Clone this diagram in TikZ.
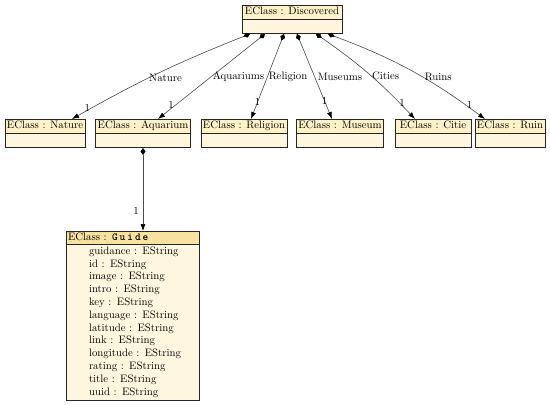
\documentclass[tikz,border=0pt]{standalone}
\usetikzlibrary{shapes.multipart,arrows.meta,positioning}

\definecolor{headfill}{HTML}{FFF2C8}
\definecolor{bodyfill}{HTML}{FEF6DF}
\definecolor{guidehead}{HTML}{F8E2A0}
\definecolor{linkgray}{HTML}{4A4A4A}

\newcommand{\headstrut}{\rule[-2.5pt]{0pt}{10pt}}
\newcommand{\bodystrut}{\rule{0pt}{11pt}}

\tikzset{
  eclass/.style={rectangle split, rectangle split parts=2, draw=black!85,
    line width=0.6pt, rectangle split part fill={headfill,bodyfill},
    inner xsep=2pt, inner ysep=1.5pt, minimum width=#1, anchor=north},
  ref/.style={draw=linkgray, line width=0.6pt,
    {Diamond[length=7pt,width=5pt,color=black]}-{Latex[length=7pt,width=5pt,color=black]}},
  role/.style={anchor=west, inner sep=1pt},
  card/.style={inner sep=1pt}
}

\begin{document}
\begin{tikzpicture}[x=1pt, y=-1pt, font=\fontsize{10.8}{13}\selectfont]
  \useasboundingbox (0,0) rectangle (550,405);

  \node[eclass=100pt] (disc) at (292,5)   {\headstrut EClass : Discovered\nodepart{two}\bodystrut};

  \node[eclass=78pt]  (nat)  at (45,119)  {\headstrut EClass : Nature\nodepart{two}\bodystrut};
  \node[eclass=92pt]  (aq)   at (143,119) {\headstrut EClass : Aquarium\nodepart{two}\bodystrut};
  \node[eclass=86pt]  (rel)  at (244,119) {\headstrut EClass : Religion\nodepart{two}\bodystrut};
  \node[eclass=86pt]  (mus)  at (340,119) {\headstrut EClass : Museum\nodepart{two}\bodystrut};
  \node[eclass=76pt]  (cit)  at (433,119) {\headstrut EClass : Citie\nodepart{two}\bodystrut};
  \node[eclass=68pt]  (ruin) at (510,119) {\headstrut EClass : Ruin\nodepart{two}\bodystrut};

  % the guide class with its attributes
  \node[eclass=133pt, text width=129pt, align=left, inner ysep=1pt,
        rectangle split part fill={guidehead,bodyfill}] (guide) at (132.5,231)
    {\headstrut EClass : \texttt{\textbf{G\kern2pt u\kern2pt i\kern2pt d\kern2pt e}}%
     \nodepart{two}\renewcommand{\arraystretch}{0.985}%
     \begin{tabular}{@{\hspace{21pt}}l@{}}
       guidance : EString\\
       id : EString\\
       image : EString\\
       intro : EString\\
       key : EString\\
       language : EString\\
       latitude : EString\\
       link : EString\\
       longitude : EString\\
       rating : EString\\
       title : EString\\
       uuid : EString
     \end{tabular}};

  \draw[ref] ([xshift=-42pt]disc.south) to[bend right=4]
    node[role,pos=.57]{Nature} node[card,pos=.9,xshift=-4pt]{1} ([xshift=27pt]nat.north);
  \draw[ref] ([xshift=-27pt]disc.south) --
    node[role,pos=.5]{Aquariums} node[card,pos=.84,xshift=-4pt]{1} ([xshift=15pt]aq.north);
  \draw[ref] ([xshift=-8pt]disc.south) --
    node[role,pos=.5]{Religion} node[card,pos=.8]{1} ([xshift=7pt]rel.north);
  \draw[ref] ([xshift=5pt]disc.south) --
    node[role,pos=.5,xshift=2pt]{Museums} node[card,pos=.79]{1} ([xshift=-8pt]mus.north);
  \draw[ref] ([xshift=24pt]disc.south) to[bend left=6]
    node[role,pos=.53]{Cities} node[card,pos=.84,xshift=3pt]{1} ([xshift=-18pt]cit.north);
  \draw[ref] ([xshift=36pt]disc.south) to[bend left=8]
    node[role,pos=.58,xshift=2pt]{Ruins} node[card,pos=.88,xshift=4pt]{1} ([xshift=-25pt]ruin.north);

  \draw[ref] (aq.south) -- node[card,pos=.76,left=3pt]{1} (aq.south |- guide.north);

\end{tikzpicture}
\end{document}
